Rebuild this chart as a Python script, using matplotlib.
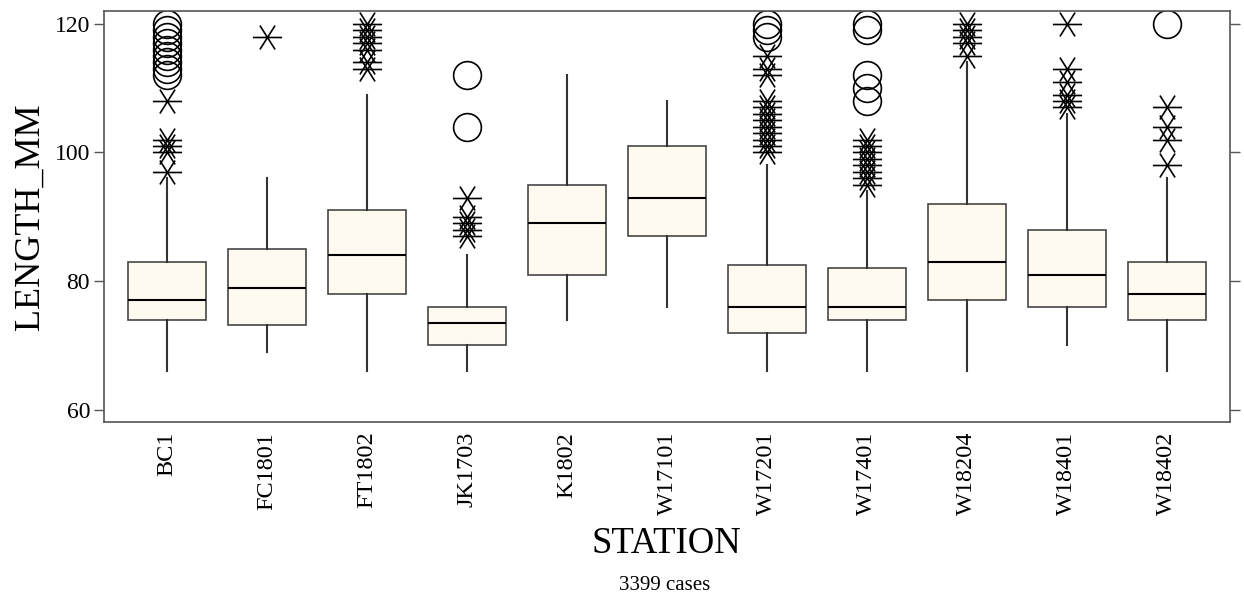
import numpy as np
import matplotlib
matplotlib.use('Agg')
import matplotlib.pyplot as plt
from matplotlib.path import Path

plt.rcParams['font.family'] = ['Liberation Serif', 'DejaVu Serif']

# du lieu doc tu hinh
stations = ['BC1', 'FC1801', 'FT1802', 'JK1703', 'K1802', 'W17101',
            'W17201', 'W17401', 'W18204', 'W18401', 'W18402']
q1 = [74, 73.25, 78, 70, 81, 87, 72, 74, 77, 76, 74]
med = [77, 79, 84, 73.5, 89, 93, 76, 76, 83, 81, 78]
q3 = [83, 85, 91, 76, 95, 101, 82.5, 82, 92, 88, 83]
whis_lo = [66, 69, 66, 66, 74, 76, 66, 66, 66, 70, 66]
whis_hi = [96, 96, 109, 84, 112, 108, 98, 94, 114, 106, 96]

# gia tri ngoai (dau sao) va gia tri xa (vong tron)
outside = [
    [97, 100, 101, 102, 108],
    [118],
    [113, 114, 116, 117, 118, 119, 120],
    [87, 88, 89, 90, 93],
    [],
    [],
    [100, 101, 102, 103, 104, 105, 106, 107, 108, 112, 113, 115],
    [95, 96, 97, 98, 99, 100, 101, 102],
    [115, 117, 118, 119, 120],
    [107, 108, 109, 111, 113, 120],
    [98, 102, 104, 107],
]
far_out = [
    [112, 113, 114, 115, 116, 117, 118, 119, 120],
    [],
    [],
    [104, 112],
    [],
    [],
    [118, 119, 120],
    [108, 110, 112, 119, 120],
    [],
    [],
    [120],
]
n_cases = 3399

# marker dau sao kieu SYSTAT: gach ngang + hai duong cheo
star = Path([(-1, 0), (1, 0), (-0.52, -0.82), (0.52, 0.82), (-0.52, 0.82), (0.52, -0.82)],
            [Path.MOVETO, Path.LINETO] * 3)

fig = plt.figure(figsize=(12.44, 5.97), dpi=100)
ax = fig.add_axes([0.0836, 0.2931, 0.9051, 0.6885])

stats = []
for i, name in enumerate(stations):
    stats.append(dict(label=name, q1=q1[i], med=med[i], q3=q3[i],
                      whislo=whis_lo[i], whishi=whis_hi[i], fliers=[]))

pos = np.arange(len(stations))
ax.bxp(stats, positions=pos, widths=0.78, patch_artist=True, showcaps=False,
       showfliers=False,
       boxprops=dict(facecolor='#fffaef', edgecolor='#474747', linewidth=1.2),
       medianprops=dict(color='black', linewidth=1.5),
       whiskerprops=dict(color='#333333', linewidth=1.5))

for i in range(len(stations)):
    if outside[i]:
        ax.plot([pos[i]] * len(outside[i]), outside[i], linestyle='none',
                marker=star, markersize=21, markeredgewidth=1.2,
                markeredgecolor='black', markerfacecolor='none')
    if far_out[i]:
        ax.plot([pos[i]] * len(far_out[i]), far_out[i], linestyle='none',
                marker='o', markersize=20, markeredgewidth=1.2,
                markeredgecolor='black', markerfacecolor='none')

ax.set_xlim(-0.63, 10.63)
ax.set_ylim(58.1, 122)
ax.set_yticks([60, 80, 100, 120])
ax.set_xticks(pos)
ax.set_xticklabels(stations, rotation=90, va='top')
ax.tick_params(axis='x', length=0, pad=7, labelsize=17.5)
ax.tick_params(axis='y', direction='out', length=7, width=1, color='#555555',
               labelsize=17, pad=3, right=True)
for s in ax.spines.values():
    s.set_color('#555555')
    s.set_linewidth(1.2)

ax.set_ylabel('LENGTH_MM', fontsize=26, labelpad=6)
fig.text(0.536, 0.0737, 'STATION', ha='center', va='baseline', fontsize=26.5)
fig.text(0.5345, 0.0117, f'{n_cases} cases', ha='center', va='baseline', fontsize=15)

fig.savefig('out.png', dpi=100)
